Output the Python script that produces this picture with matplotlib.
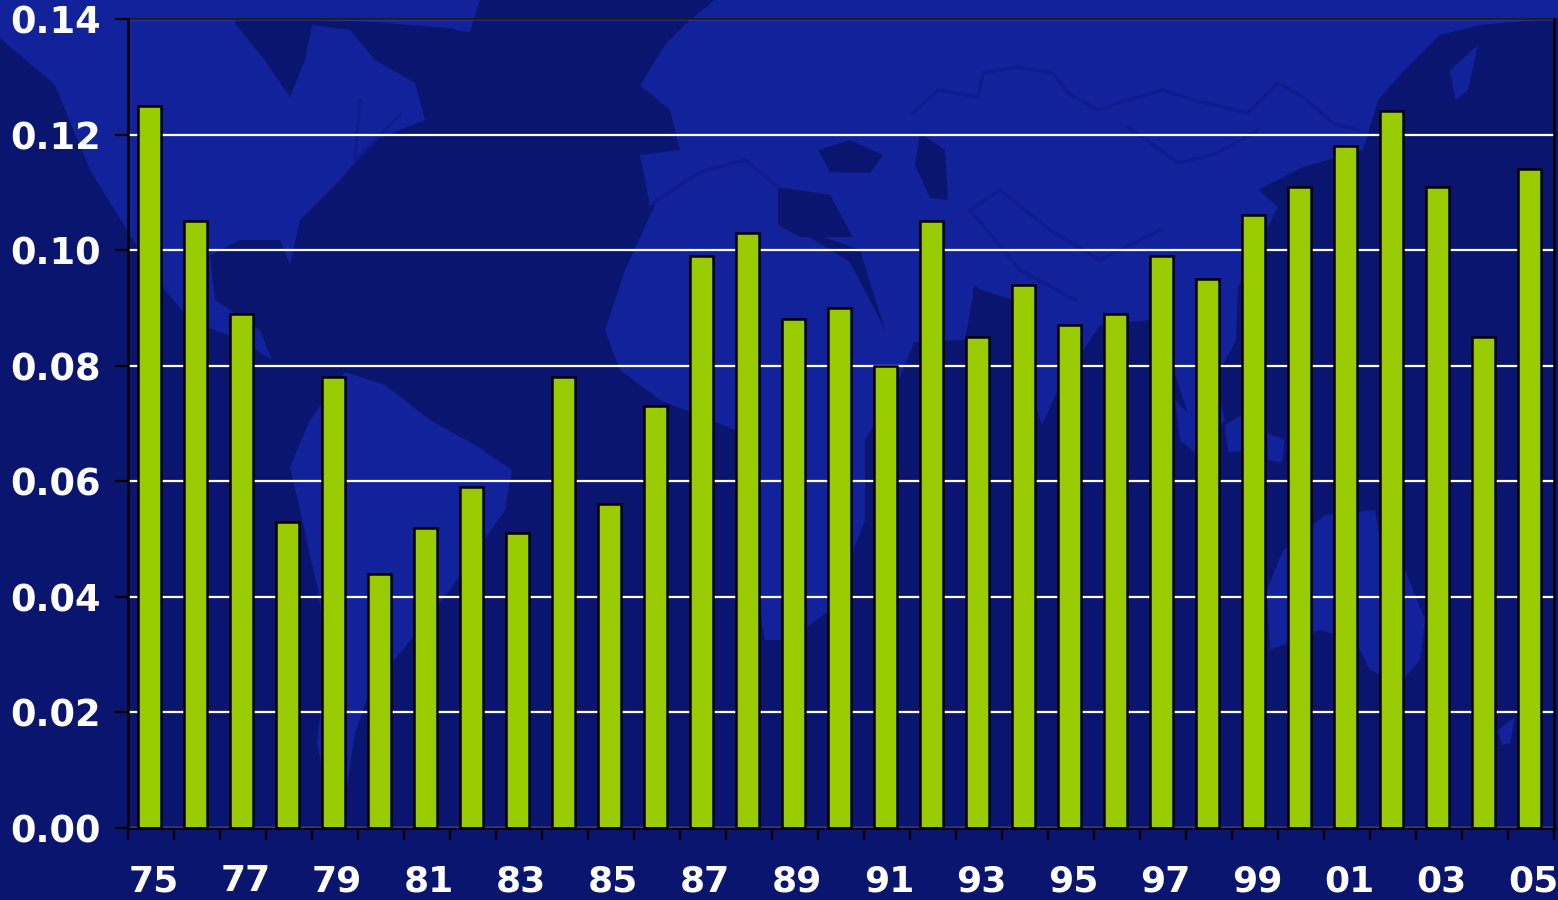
import matplotlib
matplotlib.use("Agg")
import matplotlib.pyplot as plt
from matplotlib.patches import Polygon

years = ["75", "76", "77", "78", "79", "80", "81", "82", "83", "84", "85",
         "86", "87", "88", "89", "90", "91", "92", "93", "94", "95", "96",
         "97", "98", "99", "00", "01", "02", "03", "04", "05"]
values = [0.125, 0.105, 0.089, 0.053, 0.078, 0.044, 0.052, 0.059, 0.051, 0.078, 0.056,
          0.073, 0.099, 0.103, 0.088, 0.090, 0.080, 0.105, 0.085, 0.094, 0.087, 0.089,
          0.099, 0.095, 0.106, 0.111, 0.118, 0.124, 0.111, 0.085, 0.114]
y_ticks = [0.00, 0.02, 0.04, 0.06, 0.08, 0.10, 0.12, 0.14]

OCEAN = "#0A1570"
LAND = "#12229A"
LAND_DARK = "#0E1C90"
BAR = "#99CC00"

# Decorative world-map backdrop, in image pixels
land_shapes = [
    # North America
    [(0, 0), (235, 0), (235, 23), (265, 60), (290, 97), (305, 60), (312, 25), (350, 30), (375, 60),
     (415, 83), (425, 120), (375, 140), (340, 180), (300, 220), (290, 265), (280, 240), (240, 240),
     (210, 255), (215, 300), (260, 330), (272, 360), (240, 340), (190, 320), (165, 290), (130, 235),
     (90, 170), (55, 85), (0, 38)],
    # Arctic islands, Greenland tip
    [(235, 0), (440, 0), (470, 30), (375, 22), (320, 20), (235, 20)],
    [(440, 0), (480, 0), (470, 32), (455, 30)],
    # South America
    [(345, 372), (385, 385), (430, 420), (475, 445), (512, 470), (505, 510), (470, 560), (450, 590),
     (405, 647), (370, 690), (355, 733), (345, 800), (325, 780), (317, 743), (322, 700), (325, 640),
     (318, 590), (300, 510), (290, 467), (310, 420)],
    # Africa
    [(655, 205), (720, 200), (790, 225), (850, 262), (885, 330), (915, 340), (895, 390), (865, 440),
     (865, 520), (830, 610), (790, 640), (765, 640), (750, 560), (735, 480), (735, 430), (660, 400),
     (620, 370), (605, 330), (625, 270)],
    # Eurasia
    [(715, 0), (1558, 0), (1558, 18), (1480, 25), (1440, 35), (1400, 75), (1378, 100), (1363, 150),
     (1303, 167), (1258, 190), (1278, 207), (1238, 287), (1236, 340), (1215, 380), (1225, 420),
     (1200, 452), (1182, 395), (1165, 345), (1150, 320), (1100, 325), (1060, 385), (1042, 425),
     (1020, 360), (1010, 320), (975, 285), (965, 340), (915, 342), (885, 330), (860, 250),
     (790, 225), (720, 205), (650, 205),
     (640, 155), (680, 150), (670, 110), (640, 85), (665, 45), (690, 20)],
    # Australia
    [(1267, 590), (1283, 550), (1325, 515), (1375, 510), (1380, 540), (1405, 570), (1425, 620),
     (1420, 660), (1400, 683), (1370, 670), (1355, 640), (1320, 630), (1270, 650)],
    # Islands
    [(1175, 400), (1195, 420), (1195, 453), (1180, 440)],
    [(1225, 425), (1245, 413), (1268, 425), (1262, 450), (1228, 452)],
    [(1267, 433), (1285, 440), (1282, 463), (1268, 460)],
    [(1498, 730), (1515, 717), (1510, 743), (1502, 745)],
    [(1450, 70), (1478, 45), (1468, 90), (1455, 100)],
]
sea_shapes = [
    [(235, 23), (305, 23), (300, 60), (290, 97), (265, 60)],
    [(818, 150), (850, 140), (883, 155), (870, 173), (830, 172)],
    [(920, 133), (945, 150), (948, 200), (930, 198), (915, 165)],
    [(778, 187), (830, 195), (853, 237), (800, 237), (778, 225)],
    [(973, 287), (1013, 300), (1010, 333), (973, 335)],
]
border_lines = [
    [(913, 113), (938, 90), (978, 97), (983, 73), (1018, 67), (1053, 73), (1068, 93), (1098, 110),
     (1128, 100), (1163, 90), (1193, 100), (1248, 113), (1278, 83), (1303, 97), (1333, 123), (1358, 130)],
    [(1128, 127), (1178, 163), (1218, 153), (1258, 130)],
    [(1160, 230), (1100, 260), (1050, 230), (1000, 190), (970, 210), (1020, 270), (1075, 300)],
    [(650, 205), (700, 172), (745, 160), (778, 187)],
    [(360, 100), (355, 160), (400, 115)],
]

fig = plt.figure(figsize=(15.58, 9.0), dpi=100, facecolor=OCEAN)

bg = fig.add_axes([0, 0, 1, 1], zorder=0)
bg.set_xlim(0, 1558)
bg.set_ylim(900, 0)
bg.axis("off")
for pts in land_shapes:
    bg.add_patch(Polygon(pts, closed=True, facecolor=LAND, edgecolor="none"))
for pts in sea_shapes:
    bg.add_patch(Polygon(pts, closed=True, facecolor=OCEAN, edgecolor="none"))
for pts in border_lines:
    bg.plot(*zip(*pts), color=LAND_DARK, lw=2.5, solid_joinstyle="round")

left, right, top, bottom = 127.5, 1553.5, 19.0, 828.0
ax = fig.add_axes([left / 1558, 1 - bottom / 900, (right - left) / 1558, (bottom - top) / 900], zorder=1)
ax.patch.set_alpha(0)

x = list(range(len(years)))
ax.bar(x, values, width=0.5, color=BAR, edgecolor="black", linewidth=1.8, zorder=3, clip_on=False)

ax.set_xlim(-0.47, 30.53)
ax.set_ylim(0, 0.14)

ax.set_yticks(y_ticks)
ax.set_yticklabels([f"{v:.2f}" for v in y_ticks])
ax.set_xticks([i - 0.47 for i in range(32)])
ax.set_xticklabels([])
ax.set_xticks([i + 0.09 for i in x[::2]], minor=True)
ax.set_xticklabels(years[::2], minor=True)

ax.tick_params(axis="x", which="major", direction="out", length=8.6, width=1.6, color="black")
ax.tick_params(axis="x", which="minor", length=0, pad=26, labelsize=26, labelcolor="white")
ax.tick_params(axis="y", which="major", direction="out", length=9.4, width=1.6, color="black",
               pad=10, labelsize=26.5, labelcolor="white")
for lab in ax.get_xticklabels(minor=True) + ax.get_yticklabels():
    lab.set_fontfamily("DejaVu Sans")
    lab.set_fontweight("bold")

ax.yaxis.grid(True, color="white", linewidth=1.6, zorder=1)
ax.set_axisbelow(True)

for s in ("left", "bottom", "right"):
    ax.spines[s].set_color("black")
    ax.spines[s].set_linewidth(1.8)
    ax.spines[s].set_zorder(4)
ax.spines["top"].set_color("#1E1E2A")
ax.spines["top"].set_linewidth(1.6)

fig.savefig("out.png", dpi=100, facecolor=fig.get_facecolor())
